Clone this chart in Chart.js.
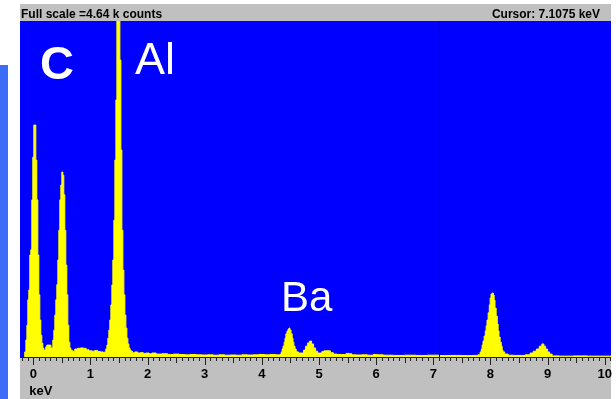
<!DOCTYPE html>
<html>
<head>
<meta charset="utf-8">
<script src="https://cdn.jsdelivr.net/npm/chart.js@4.4.0/dist/chart.umd.min.js"></script>
<style>
  html, body { margin: 0; padding: 0; background: #fff; overflow: hidden; }
  #wrap { position: relative; width: 616px; height: 399px; overflow: hidden; }
</style>
</head>
<body>
<div id="wrap"><canvas id="spectrum" width="640" height="399"></canvas></div>
<script>
// EDS spectrum, energy in keV against counts per channel
const energyKeV = [
  -0.16, -0.14, -0.12, -0.105, -0.088, -0.07, -0.053, -0.035, -0.018, 0.0,
  0.018, 0.035, 0.053, 0.07, 0.088, 0.105, 0.123, 0.14, 0.158, 0.175,
  0.193, 0.21, 0.228, 0.245, 0.28, 0.30, 0.315, 0.333, 0.35, 0.368,
  0.385, 0.403, 0.42, 0.438, 0.455, 0.473, 0.49, 0.508, 0.525, 0.543,
  0.56, 0.578, 0.595, 0.613, 0.63, 0.648, 0.665, 0.70, 0.75, 0.80,
  0.85, 0.90, 0.95, 1.00, 1.05, 1.10, 1.15, 1.20, 1.24, 1.26,
  1.278, 1.296, 1.313, 1.33, 1.348, 1.366, 1.383, 1.401, 1.419, 1.436,
  1.454, 1.471, 1.489, 1.506, 1.524, 1.541, 1.559, 1.576, 1.594, 1.611,
  1.629, 1.646, 1.664, 1.681, 1.70, 1.72, 1.75, 1.80, 1.85, 1.90,
  1.95, 2.00, 2.05, 2.10, 2.20, 2.30, 2.40, 2.50, 2.60, 2.70,
  2.80, 2.90, 3.00, 3.10, 3.20, 3.30, 3.40, 3.50, 3.60, 3.70,
  3.80, 3.90, 4.00, 4.10, 4.20, 4.28, 4.31, 4.33, 4.35, 4.36,
  4.38, 4.40, 4.41, 4.43, 4.45, 4.47, 4.48, 4.50, 4.52, 4.54,
  4.55, 4.57, 4.59, 4.61, 4.62, 4.66, 4.71, 4.75, 4.78, 4.82,
  4.85, 4.89, 4.92, 4.96, 4.99, 5.03, 5.07, 5.10, 5.18, 5.22,
  5.28, 5.35, 5.45, 5.50, 5.55, 5.60, 5.70, 5.80, 5.90, 6.00,
  6.05, 6.20, 6.40, 6.60, 6.80, 7.00, 7.20, 7.40, 7.60, 7.75,
  7.81, 7.83, 7.85, 7.86, 7.88, 7.90, 7.92, 7.93, 7.95, 7.97,
  7.99, 8.00, 8.02, 8.04, 8.06, 8.07, 8.09, 8.11, 8.13, 8.14,
  8.16, 8.18, 8.20, 8.21, 8.23, 8.27, 8.35, 8.45, 8.55, 8.67,
  8.72, 8.78, 8.83, 8.88, 8.92, 8.95, 8.98, 9.02, 9.05, 9.11,
  9.30, 9.60, 9.80, 10.11
];
const counts = [
  0, 70, 235, 440, 790, 925, 1410, 1480, 2170, 2760,
  3204, 3204, 2720, 2170, 1410, 860, 510, 300, 190, 125,
  95, 95, 140, 165, 165, 165, 125, 125, 235, 370,
  580, 790, 1000, 1340, 1750, 2170, 2375, 2555, 2510, 2240,
  1750, 1270, 860, 440, 205, 125, 95, 80, 110, 120,
  125, 120, 100, 85, 80, 90, 75, 70, 65, 70,
  110, 165, 260, 370, 510, 720, 995, 1340, 1890, 2720,
  3550, 4640, 4640, 4640, 4100, 2860, 1750, 1200, 860, 580,
  400, 260, 180, 125, 95, 80, 60, 70, 55, 60,
  50, 55, 45, 55, 40, 45, 35, 40, 35, 30,
  35, 30, 28, 30, 25, 30, 25, 28, 25, 30,
  28, 30, 35, 30, 35, 30, 30, 40, 70, 110,
  150, 205, 260, 320, 360, 385, 400, 373, 320, 260,
  205, 150, 110, 80, 70, 55, 55, 95, 150, 195,
  220, 180, 125, 80, 55, 55, 75, 85, 85, 60,
  40, 35, 35, 50, 45, 30, 28, 30, 25, 35,
  30, 25, 22, 25, 22, 25, 20, 22, 20, 22,
  30, 70, 110, 165, 220, 290, 360, 430, 510, 610,
  720, 815, 870, 884, 855, 785, 675, 565, 455, 360,
  275, 205, 150, 95, 70, 40, 25, 22, 22, 30,
  55, 80, 110, 150, 180, 150, 110, 70, 40, 15,
  12, 15, 12, 12
];
const tickValues = [0, 1, 2, 3, 4, 5, 6, 7, 8, 9, 10];
const fullScaleCounts = 4640;
const cursorKeV = 7.1075;

const FONT = "'Liberation Sans', Arial, sans-serif";

// element labels placed in data units
const elementLabels = [
  { text: 'C', keV: 0.117, y: 3839, weight: 'bold', size: 47 },
  { text: 'Al', keV: 1.78, y: 3908, weight: 'normal', size: 45 },
  { text: 'Ba', keV: 4.335, y: 635, weight: 'normal', size: 42 }
];

const backdrop = {
  id: 'backdrop',
  beforeDraw(chart) {
    const { ctx, chartArea: a } = chart;
    ctx.save();
    ctx.fillStyle = '#ffffff';
    ctx.fillRect(0, 0, chart.width, chart.height);
    ctx.fillStyle = '#c0c0c0';
    ctx.fillRect(a.left, 4, a.right - a.left, a.top - 4);
    ctx.fillRect(a.left, a.bottom, a.right - a.left, chart.height - a.bottom);
    ctx.fillStyle = '#0000ff';
    ctx.fillRect(a.left, a.top, a.right - a.left, a.bottom - a.top);
    ctx.fillStyle = '#3d6cf7';
    ctx.fillRect(0, 65, 8, chart.height - 65);
    ctx.restore();
  },
  afterDatasetsDraw(chart) {
    const { ctx, chartArea: a, scales } = chart;
    const cx = Math.round(scales.x.getPixelForValue(cursorKeV)) + 0.5;
    ctx.save();
    ctx.strokeStyle = '#00008b';
    ctx.lineWidth = 1;
    ctx.beginPath();
    ctx.moveTo(cx, a.top);
    ctx.lineTo(cx, a.bottom);
    ctx.stroke();
    ctx.restore();
  },
  afterDraw(chart) {
    const { ctx, chartArea: a, scales } = chart;
    const xs = scales.x, ys = scales.y;
    ctx.save();

    // axis line and 0.1 keV tick marks
    ctx.strokeStyle = '#202020';
    ctx.lineWidth = 1;
    ctx.beginPath();
    ctx.moveTo(a.left, a.bottom + 0.5);
    ctx.lineTo(a.right, a.bottom + 0.5);
    for (let i = -2; i <= 101; i++) {
      const px = Math.round(xs.getPixelForValue(i / 10)) + 0.5;
      if (px < a.left || px > a.right) continue;
      const len = i % 10 === 0 ? 8 : (i % 5 === 0 ? 6 : 4);
      ctx.moveTo(px, a.bottom);
      ctx.lineTo(px, a.bottom + len);
    }
    ctx.stroke();

    ctx.fillStyle = '#000';
    ctx.font = 'bold 13px ' + FONT;
    ctx.textAlign = 'left';
    ctx.textBaseline = 'alphabetic';
    ctx.fillText('keV', xs.getPixelForValue(0) - 4, 395);

    // header bar
    ctx.font = 'bold 12px ' + FONT;
    ctx.fillText('Full scale =' + (fullScaleCounts / 1000).toFixed(2) + ' k counts', a.left + 1, 17.5);
    ctx.textAlign = 'right';
    ctx.fillText('Cursor: ' + cursorKeV.toFixed(4) + ' keV', 600, 17.5);

    ctx.fillStyle = '#ffffff';
    ctx.textAlign = 'left';
    elementLabels.forEach(l => {
      ctx.font = l.weight + ' ' + l.size + 'px ' + FONT;
      ctx.fillText(l.text, xs.getPixelForValue(l.keV), ys.getPixelForValue(l.y));
    });
    ctx.restore();
  }
};

new Chart(document.getElementById('spectrum'), {
  type: 'line',
  data: {
    datasets: [{
      label: 'Counts',
      data: energyKeV.map((e, i) => ({ x: e, y: counts[i] })),
      borderColor: '#ffff00',
      backgroundColor: '#ffff00',
      borderWidth: 1,
      pointRadius: 0,
      fill: 'origin',
      stepped: 'middle'
    }]
  },
  options: {
    responsive: false,
    animation: false,
    devicePixelRatio: 1,
    layout: { padding: { left: 20, right: 29, top: 21, bottom: 0 } },
    plugins: { legend: { display: false }, tooltip: { enabled: false } },
    scales: {
      x: {
        type: 'linear',
        min: -0.233,
        max: 10.11,
        grid: { display: false, drawTicks: false },
        border: { display: false },
        afterBuildTicks: s => { s.ticks = tickValues.map(v => ({ value: v })); },
        afterFit: s => { s.height = 42; },
        ticks: {
          autoSkip: false,
          maxRotation: 0,
          padding: 10,
          color: '#000',
          font: { family: FONT, size: 13, weight: 'bold' }
        }
      },
      y: {
        display: false,
        min: 0,
        max: fullScaleCounts
      }
    }
  },
  plugins: [backdrop]
});
</script>
</body>
</html>
